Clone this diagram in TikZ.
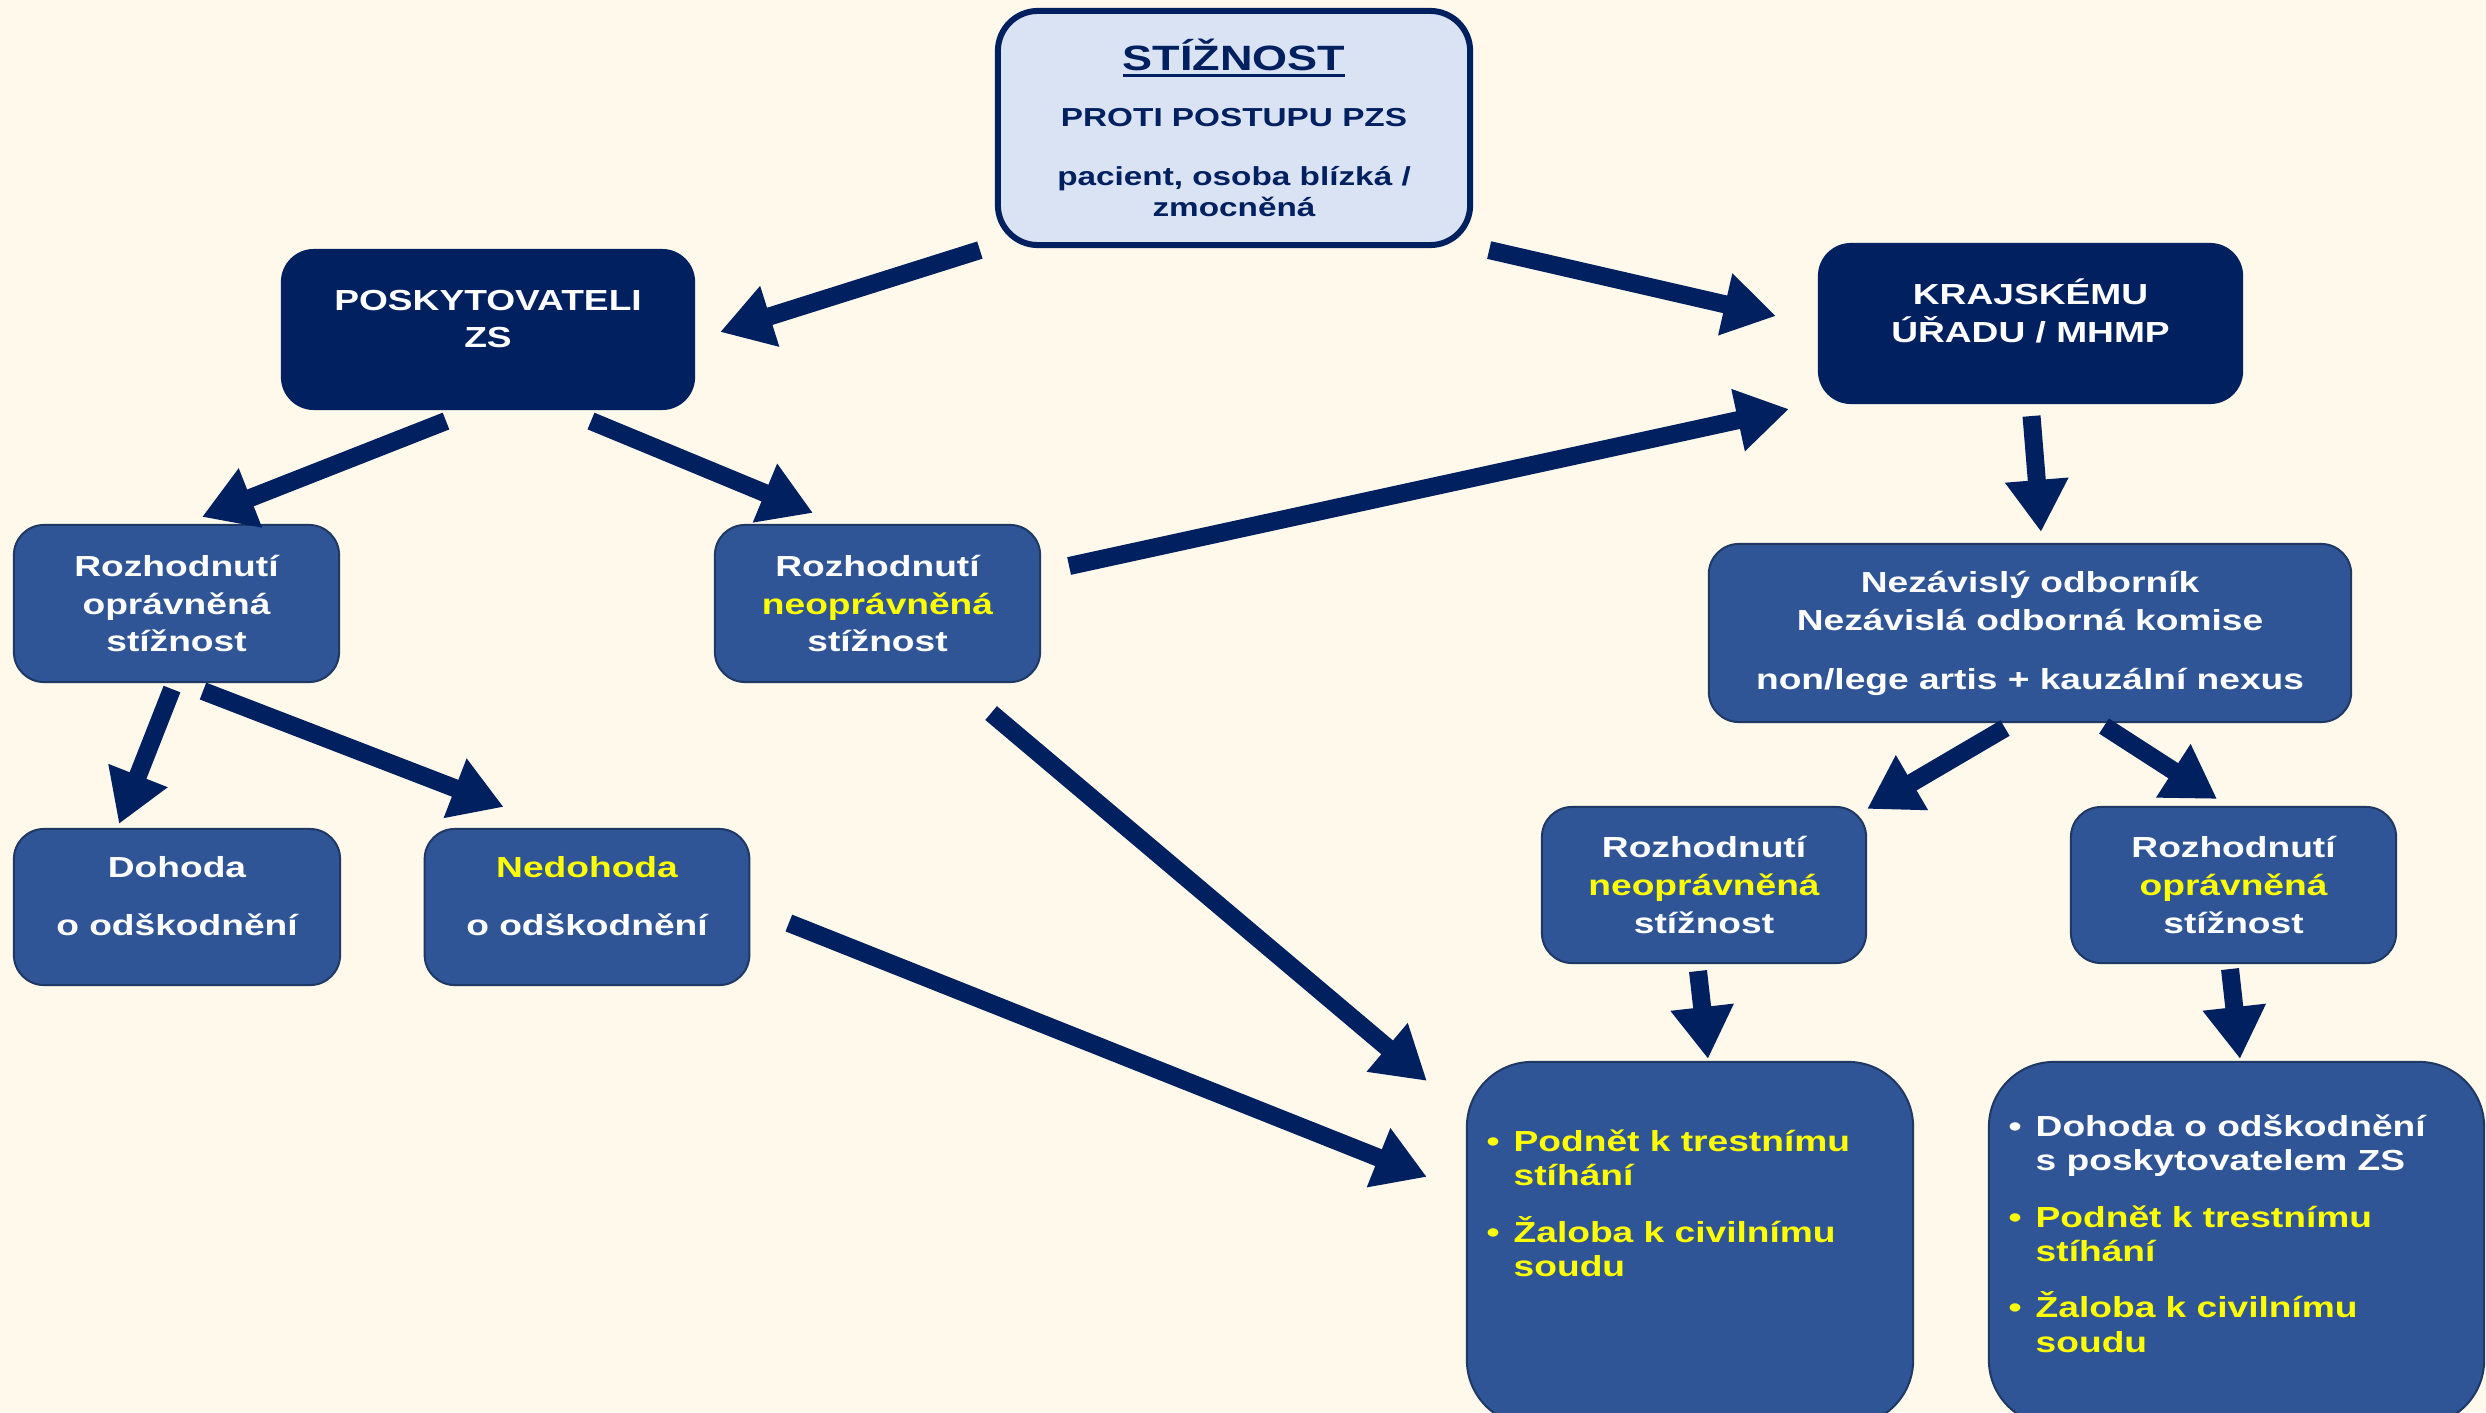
\documentclass[tikz,border=0pt]{standalone}
\usepackage{fontspec}
\setmainfont{Liberation Sans}[FakeStretch=1.28]
\usetikzlibrary{arrows.meta,calc}
\definecolor{bg}{HTML}{FFF9EB}
\definecolor{navy}{HTML}{002060}
\definecolor{midblue}{HTML}{2F5597}
\definecolor{edgeblue}{HTML}{1F3864}
\definecolor{lightblue}{HTML}{DAE3F3}
\definecolor{hl}{HTML}{FFFF00}
\newcommand{\boxfnt}{\fontsize{8.25pt}{10.8pt}\selectfont\bfseries}
\newcommand{\listfnt}{\fontsize{8.25pt}{9.8pt}\selectfont\bfseries}
\newcommand{\topfnt}{\fontsize{7.4pt}{8.8pt}\selectfont\bfseries}
\newcommand{\bul}{\llap{\textbullet\hspace{4pt}}}
\newcommand{\myul}[1]{\setbox0\hbox{#1}\rlap{\rule[-1.9pt]{\wd0}{1pt}}\box0}
\begin{document}
\begin{tikzpicture}[x=0.01cm,y=-0.01cm,
  darkbox/.style={draw=navy, fill=navy, rounded corners=0.32cm, inner sep=0pt, line width=0.02cm},
  bluebox/.style={draw=edgeblue, fill=midblue, rounded corners=0.3cm, inner sep=0pt, line width=0.02cm, text=white, align=center, font=\boxfnt},
  bigbox/.style={draw=edgeblue, fill=midblue, rounded corners=0.65cm, inner sep=0pt, line width=0.02cm},
  txt/.style={text=white, align=center, inner sep=0pt, font=\boxfnt},
  listtxt/.style={text=white, align=left, inner sep=0pt, font=\listfnt, anchor=north west},
  arr/.style={draw=navy, line width=0.18cm, -{Triangle[length=0.52cm,width=0.6cm]}},
]
\useasboundingbox (0,0) rectangle (2486,1412);
\fill[bg] (0,0) rectangle (2486,1412);
\clip (0,0) rectangle (2486,1412);

% boxes
\node[draw=navy, fill=lightblue, line width=0.06cm, rounded corners=0.4cm,
      minimum width=4.72cm, minimum height=2.34cm, inner sep=0pt, align=center,
      text=navy, font=\topfnt] (top) at (1234,128)
  {{\fontsize{10pt}{12pt}\selectfont\myul{STÍŽNOST}}\\[7.1pt]
   PROTI POSTUPU PZS\\[8pt]
   pacient, osoba blízká /\\
   zmocněná};

\node[darkbox, minimum width=4.12cm, minimum height=1.59cm] (posk) at (488,329.5) {};
\node[txt] (poskt) at (488,319) {POSKYTOVATELI\\ZS};

\node[darkbox, minimum width=4.23cm, minimum height=1.59cm] (kraj) at (2030.5,323.5) {};
\node[txt] (krajt) at (2030.5,311) {KRAJSKÉMU\\ÚŘADU / MHMP};

\node[bluebox, minimum width=3.25cm, minimum height=1.57cm] (rL) at (176.5,603.5)
  {Rozhodnutí\\oprávněná\\stížnost};
\node[bluebox, minimum width=3.25cm, minimum height=1.57cm] (rM) at (877.5,603.5)
  {Rozhodnutí\\\textcolor{hl}{neoprávněná}\\stížnost};

\node[bluebox, minimum width=6.42cm, minimum height=1.78cm] (nez) at (2030,633)
  {Nezávislý odborník\\Nezávislá odborná komise\\[6pt]non/lege artis + kauzální nexus};

\node[bluebox, minimum width=3.26cm, minimum height=1.56cm] (doh) at (177,907) {};
\node[txt] (doht) at (177,896) {Dohoda\\[5.7pt]o odškodnění};
\node[bluebox, minimum width=3.245cm, minimum height=1.56cm] (ned) at (587,907) {};
\node[txt] (nedt) at (587,896) {\textcolor{hl}{Nedohoda}\\[5.7pt]o odškodnění};

\node[bluebox, minimum width=3.24cm, minimum height=1.56cm] (rN) at (1704,885)
  {Rozhodnutí\\\textcolor{hl}{neoprávněná}\\stížnost};
\node[bluebox, minimum width=3.25cm, minimum height=1.56cm] (rO) at (2233.5,885)
  {Rozhodnutí\\\textcolor{hl}{oprávněná}\\stížnost};

\node[bigbox, minimum width=4.46cm, minimum height=3.63cm] (bL) at (1690,1243.5) {};
\node[listtxt, text=hl] (bLt) at (1513,1129)
  {\bul Podnět k trestnímu\\stíhání\\[6.2pt]\bul Žaloba k civilnímu\\soudu};
\node[bigbox, minimum width=4.95cm, minimum height=3.63cm] (bR) at (2236.5,1243.5) {};
\node[listtxt] (bRt) at (2035,1114)
  {\bul Dohoda o odškodnění\\s poskytovatelem ZS\\[6.2pt]
   \textcolor{hl}{\bul Podnět k trestnímu}\\\textcolor{hl}{stíhání}\\[6.2pt]
   \textcolor{hl}{\bul Žaloba k civilnímu}\\\textcolor{hl}{soudu}};

% arrows
\draw[arr] ($(top.south west)+(-15,2)$) -- ($(posk.east)+(25,2.5)$);
\draw[arr] ($(top.south east)+(16,2)$) -- ($(kraj.west)+(-42,-7.5)$);
\draw[arr] ($(posk.south)+(-42,11)$) -- ($(rL.north)+(25.5,-7)$);
\draw[arr] ($(posk.south)+(103,11)$) -- ($(rM.north)+(-64.5,-11)$);
\draw[arr] ($(rM.east)+(28,-37.5)$) -- ($(kraj.south west)+(-29,5)$);
\draw[arr] ($(kraj.south)+(1,12)$) -- ($(nez.north)+(11,-11)$);
\draw[arr] ($(nez.south)+(-25,5)$) -- ($(rN.north east)+(0,3)$);
\draw[arr] ($(nez.south)+(74,3)$) -- ($(rO.north)+(-16.5,-7)$);
\draw[arr] ($(rL.south)+(-4.5,6)$) -- ($(doh.north)+(-58,-4)$);
\draw[arr] ($(rL.south)+(26.5,8)$) -- ($(ned.north west)+(80,-21)$);
\draw[arr] ($(rM.south east)+(-50,30)$) -- ($(bL.north west)+(-39,20)$);
\draw[arr] ($(ned.east)+(38.5,16)$) -- ($(bL.north west)+(-39,116)$);
\draw[arr] ($(rN.south)+(-6,7)$) -- ($(bL.north)+(18,-2)$);
\draw[arr] ($(rO.south)+(-3.5,5)$) -- ($(bR.north)+(3.5,-2)$);
\end{tikzpicture}
\end{document}
